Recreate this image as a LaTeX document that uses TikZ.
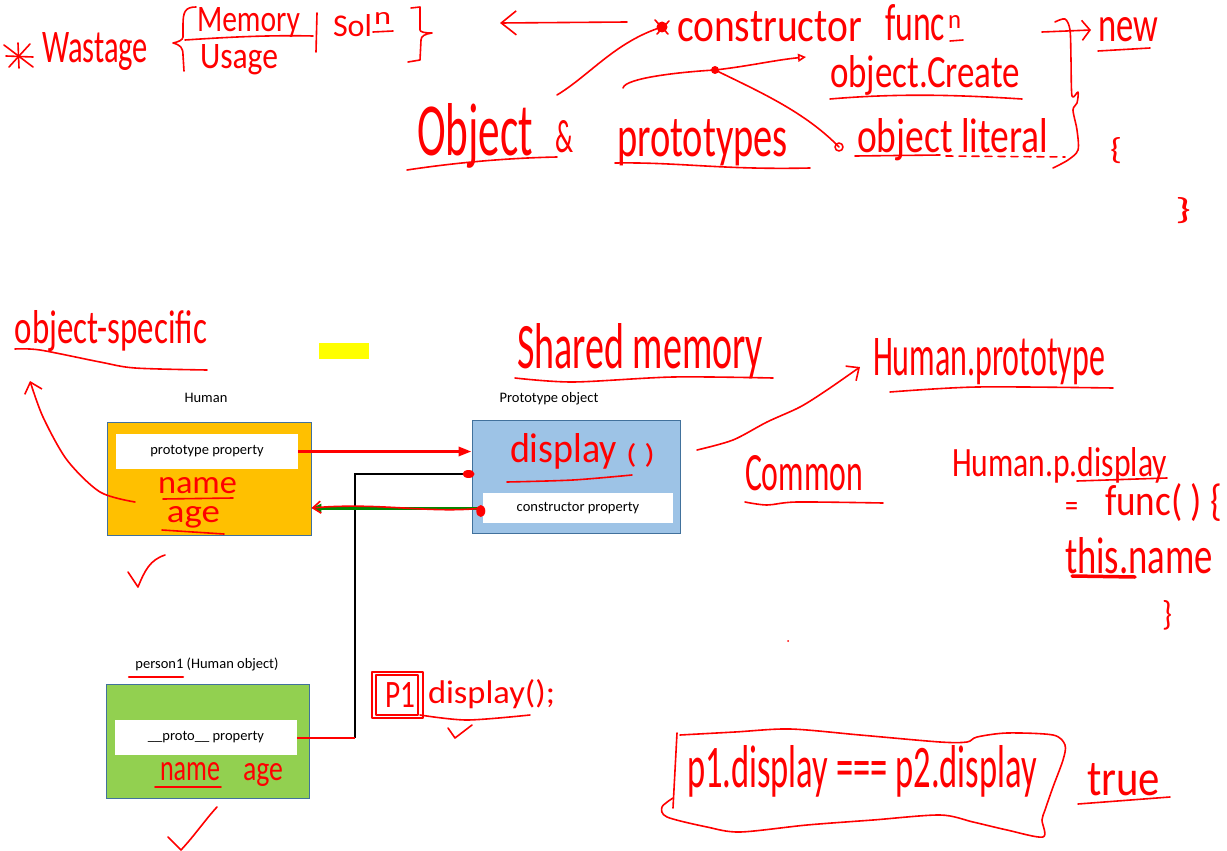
\documentclass[tikz,border=0pt]{standalone}
\usepackage{fontspec}
\setmainfont{Carlito}
\usepackage{graphicx}
\usetikzlibrary{arrows.meta}
\definecolor{hwred}{HTML}{FF0000}
\definecolor{boxorange}{HTML}{FFC000}
\definecolor{boxblue}{HTML}{9DC3E6}
\definecolor{boxgreen}{HTML}{92D050}
\definecolor{boxedge}{HTML}{41719C}
\definecolor{linkgreen}{HTML}{008A00}
\definecolor{hiyellow}{HTML}{FFFF00}
\newcommand{\hwt}[3]{\resizebox{#1pt}{#2pt}{#3}}
\begin{document}
\begin{tikzpicture}[x=1pt,y=-1pt,
  hw/.style={text=hwred, inner sep=0pt, outer sep=0pt, anchor=base west},
  ink/.style={draw=hwred, line width=1.6pt, line cap=round, line join=round},
  inkarrow/.style={ink, -{Straight Barb[length=10pt,width=18pt]}},
  objbox/.style={draw=boxedge, line width=0.9pt, inner sep=0pt},
  propbox/.style={fill=white, inner sep=0pt, font=\fontsize{14.5}{17}\selectfont},
  lbl/.style={inner sep=0pt, font=\fontsize{14.5}{17}\selectfont, text=black}]
\useasboundingbox (0,0) rectangle (1227,851);
\fill[white] (0,0) rectangle (1227,851);

% ---------- boxes ----------
\node[objbox, fill=boxorange, minimum width=204pt, minimum height=113pt] (human) at (209,478.5) {};
\node[propbox, minimum width=182pt, minimum height=35pt] (pp) at (207,451.5) {prototype property};
\node[lbl] (humanlbl) at (206,398) {Human};
\node[objbox, fill=boxblue, minimum width=208pt, minimum height=113pt] (proto) at (576,476.5) {};
\node[propbox, minimum width=190pt, minimum height=30pt] (cp) at (578,508) {constructor property};
\node[lbl] (protolbl) at (549,399) {Prototype object};
\node[objbox, fill=boxgreen, minimum width=203pt, minimum height=114pt] (person) at (207.5,741) {};
\node[propbox, minimum width=182pt, minimum height=35pt] (pr) at (206,737.5) {\_\_proto\_\_ property};
\node[lbl] (personlbl) at (207,664) {person1 (Human object)};

\fill[hiyellow] (319,343) rectangle (369,359);

% ---------- connectors ----------
\draw[hwred, line width=3pt, -{Triangle[length=13pt,width=9pt]}] (pp.east) -- (pp.east -| proto.west);
\coordinate (bend) at (355,474);
\coordinate (pin) at (proto.west |- bend);
\draw[black, line width=1.5pt] (pr.east) -| (bend) -- (pin);
\draw[hwred, line width=2pt] (pr.east) -- (pr.east -| bend);
\fill[hwred] ([xshift=-3pt]pin) ellipse [x radius=6pt, y radius=4pt];
\draw[linkgreen, line width=3pt, -{Triangle[length=10pt,width=8pt]}] (cp.west) -- (cp.west -| human.east);
\draw[ink, -{Straight Barb[length=8pt,width=12pt]}] (cp.west) .. controls (430,514) and (380,502) .. (cp.west -| human.east);
\fill[hwred] ([xshift=-2pt,yshift=-3pt]cp.west) ellipse [x radius=4.5pt, y radius=6pt];

% ---------- top handwriting ----------
\coordinate (ast) at (19,56);
\draw[ink] (4,45) -- (33,67);
\draw[ink] (9,67) -- (30,44);
\draw[ink] (6,56) -- (33,57);
\draw[ink] (18,43) -- (19,68);
\node[hw] (wastage) at (42,63) {\hwt{106}{30}{Wastage}};
\draw[ink] (196,7) .. controls (185,7) and (183,12) .. (183,25) -- (183,37) .. controls (183,40) and (178,42) .. (173,43) .. controls (180,45) and (183,47) .. (183,55) -- (184,71);
\node[hw] (memory) at (197,32) {\hwt{103}{24}{Memory}};
\draw[ink] (185,40) .. controls (230,37) and (270,35) .. (313,36);
\node[hw] (usage) at (200,69) {\hwt{78}{24}{Usage}};
\draw[ink] (317,13) -- (316,52);
\node[hw] (sol) at (333,37) {\hwt{39}{22}{Sol}};
\node[hw] (soln) at (374,25) {\hwt{17}{12}{n}};
\draw[ink] (373,32) -- (393,31);
\draw[ink] (411,8) -- (420,7) -- (420,30) .. controls (420,32) and (425,33) .. (432,33) .. controls (425,34) and (421,36) .. (421,40) -- (420,60) -- (408,62);

\coordinate (darrs) at (627,22);
\coordinate (darre) at (500,23);
\draw[ink, -{Straight Barb[length=15pt,width=24pt]}] (darrs) -- (darre);

\node[hw] (ctor) at (677,42) {\hwt{185}{30}{constructor}};
\node[hw] (func) at (885,41) {\hwt{60}{36}{func}};
\node[hw] (funcn) at (948,29) {\hwt{13}{13}{n}};
\draw[ink] (950,41) -- (963,40);
\coordinate (blob) at (662,27);
\fill[hwred] (blob) circle (5.5pt);
\draw[ink] (655,20) -- (668,34);
\draw[ink] (657,34) -- (669,21);

\node[hw] (ocreate) at (830,88) {\hwt{190}{32}{object.Create}};
\draw[ink] (830,99) .. controls (900,93) and (960,95) .. (1022,99);
\node[hw] (olit) at (857,152) {\hwt{191}{34}{object literal}};
\draw[ink] (855,156) -- (940,155);
\draw[ink, dash pattern=on 7pt off 6pt] (946,156) -- (1065,157);
\coordinate (olitdot) at (839,147);
\draw[ink] (olitdot) circle (4pt);

\node[hw] (object) at (417,155) {\hwt{116}{52}{Object}};
\node[hw] (amp) at (555,152) {\hwt{18}{32}{\&}};
\node[hw] (protos) at (617,157) {\hwt{171}{37}{prototypes}};
\draw[ink] (407,170) .. controls (460,162) and (510,158) .. (557,157);
\draw[ink] (615,163) .. controls (680,162) and (720,170) .. (810,168);

\draw[ink] (557,95) .. controls (590,75) and (615,42) .. (blob);
\coordinate (fork) at (715,70);
\draw[ink, -{Triangle[open,length=8pt,width=8pt]}] (623,88) .. controls (625,78) and (680,72) .. (fork) .. controls (750,66) and (775,60) .. (806,57);
\fill[hwred] (fork) circle (4pt);
\draw[ink] (fork) .. controls (760,92) and (805,112) .. (olitdot);

\coordinate (news) at (1042,32);
\coordinate (newe) at (1091,30);
\draw[ink, -{Straight Barb[length=8pt,width=20pt]}] (news) -- (newe);
\node[hw] (new) at (1098,42) {\hwt{60}{24}{new}};
\draw[ink] (1098,51) -- (1150,48);
\draw[ink] plot[smooth] coordinates {(1055,22) (1065,19) (1070,30) (1071,60) (1072,96) (1078,92) (1077,103) (1073,110) (1077,130) (1078,150) (1068,160) (1053,168)};
\node[hw] (lbr) at (1110,159) {\hwt{12}{22}{\{}};
\node[hw] (rbr) at (1175,219) {\hwt{16}{22}{\}}};

% ---------- lower handwriting ----------
\node[hw] (objspec) at (15,343) {\hwt{192}{33}{object-specific}};
\draw[ink] plot[smooth] coordinates {(15,349) (40,350) (100,362) (135,368) (207,370)};
\node[hw, anchor=north west, align=left, font=\fontsize{10}{29}\selectfont] (hnameage) at (158,477)
  {\hwt{79}{16}{name}\\\hspace*{9pt}\hwt{53}{16}{age}};
\draw[ink] (163,499) -- (233,498);
\draw[ink] (162,530) -- (224,534);
\draw[inkarrow] plot[smooth] coordinates {(135,502) (100,492) (67,460) (43,417) (30,381)};
\draw[ink] (128,572) -- (138,587) .. controls (145,570) and (150,560) .. (165,555);

\node[hw] (shared) at (517,368) {\hwt{246}{45}{Shared memory}};
\draw[ink] plot[smooth] coordinates {(515,378) (573,382) (673,377) (773,378)};
\node[hw] (disp) at (510,462) {\hwt{107}{29}{display}};
\node[hw] (parens) at (626,463) {\hwt{29}{20}{( )}};
\draw[ink] plot[smooth] coordinates {(507,482) (573,480) (632,475)};

\draw[inkarrow] plot[smooth] coordinates {(697,450) (733,440) (767,422) (800,407) (827,390) (860,367)};
\node[hw] (hproto) at (873,375) {\hwt{232}{37}{Human.prototype}};
\draw[ink] plot[smooth] coordinates {(890,392) (977,387) (1113,388)};
\node[hw] (common) at (745,490) {\hwt{118}{35}{Common}};
\draw[ink] plot[smooth] coordinates {(745,502) (767,505) (797,502) (883,503)};

\node[hw] (hpd) at (952,476) {\hwt{215}{29}{Human.p.display}};
\draw[ink] (1077,481) -- (1167,478);
\node[hw] (eq) at (1065,516) {\hwt{13}{14}{=}};
\node[hw] (funcdef) at (1105,515) {\hwt{117}{32}{func( ) \{}};
\node[hw] (thisname) at (1065,573) {\hwt{148}{36}{this.name}};
\draw[ink, line width=3.5pt] (1072,576) -- (1135,577);
\node[hw] (close) at (1162,625) {\hwt{10}{25}{\}}};
\fill[hwred] (788,641) circle (1pt);

\draw[ink, line width=2.5pt] (129,677) -- (183,677);
\node[hw] (pname) at (160,780) {\hwt{60}{18}{name}};
\draw[ink] (155,787) -- (221,787);
\node[hw] (page) at (243,780) {\hwt{40}{17}{age}};
\draw[ink] (168,837) -- (181,850) .. controls (195,835) and (205,820) .. (217,807);

\draw[ink] (372,672) rectangle (423,718);
\draw[ink] (376,675) rectangle (418,715);
\node[hw] (p1) at (385,707) {\hwt{30}{25}{P1}};
\node[hw] (p1disp) at (428,703) {\hwt{127}{24}{display();}};
\draw[ink] plot[smooth] coordinates {(420,715) (467,720) (530,715)};
\draw[ink] (448,728) -- (455,738) -- (472,725);

\node[hw] (cmp) at (687,787) {\hwt{350}{42}{p1.display === p2.display}};
\draw[ink] (677,733) -- (673,808);
\draw[ink] plot[smooth] coordinates {(680,735) (735,732) (790,729) (860,735) (940,742) (967,742) (977,737) (1007,733) (1053,735) (1065,745) (1063,760) (1053,787) (1045,810) (1042,820) (1043,837) (1007,830) (973,822) (940,815) (873,820) (807,825) (740,832) (707,827) (667,817) (662,807) (673,798)};
\node[hw] (true) at (1087,795) {\hwt{73}{32}{true}};
\draw[ink] (1078,804) -- (1170,797);
\end{tikzpicture}
\end{document}
